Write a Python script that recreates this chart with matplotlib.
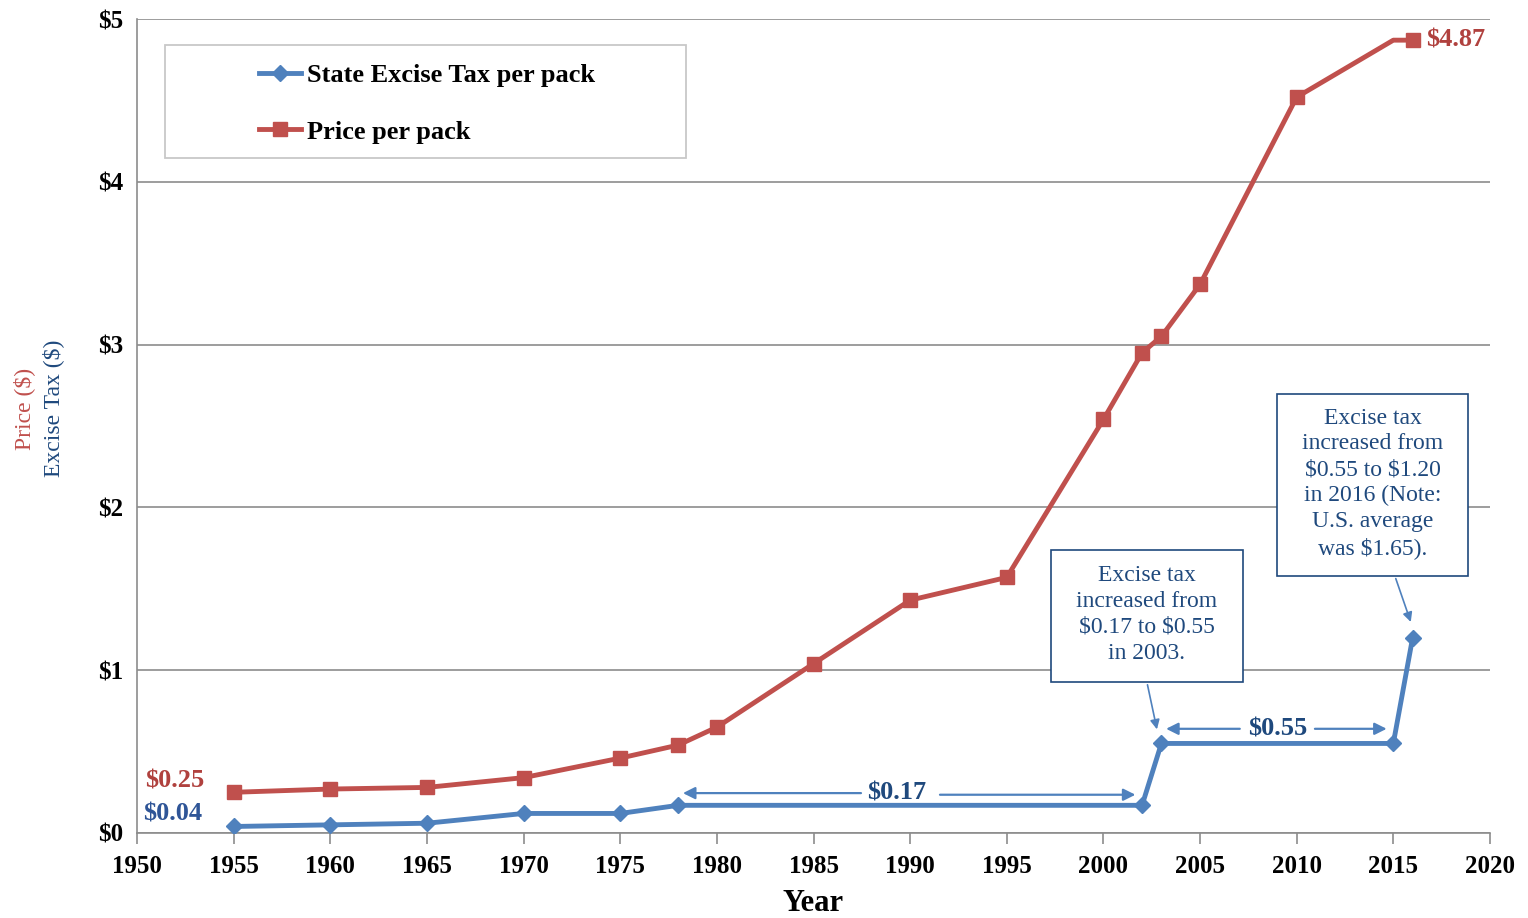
import numpy as np
import matplotlib.pyplot as plt
from matplotlib.ticker import FuncFormatter
from matplotlib.patches import Rectangle

# datos: precio por cajetilla e impuesto estatal
price_years = [1955, 1960, 1965, 1970, 1975, 1978, 1980, 1985, 1990, 1995,
               2000, 2002, 2003, 2005, 2010, 2015, 2016]
price = [0.25, 0.27, 0.28, 0.34, 0.46, 0.54, 0.65, 1.04, 1.43, 1.57,
         2.54, 2.95, 3.05, 3.37, 4.52, 4.87, 4.87]

tax_years = [1955, 1960, 1965, 1970, 1975, 1978, 2002, 2003, 2015, 2016]
tax = [0.04, 0.05, 0.06, 0.12, 0.12, 0.17, 0.17, 0.55, 0.55, 1.20]

year_ticks = list(range(1950, 2021, 5))
price_ticks = [0, 1, 2, 3, 4, 5]

red = '#C0504D'
blue = '#4F81BD'
dark_blue = '#1F497D'
dark_red = '#B0413E'

plt.rcParams['font.family'] = ['Liberation Serif', 'DejaVu Serif']

fig = plt.figure(figsize=(15.28, 9.18), dpi=100)
ax = fig.add_axes([0.0897, 0.0926, 0.8854, 0.8867])

# marcador en todos los puntos menos 2015 (solo quiebre de la linea)
price_marks = [i for i, y in enumerate(price_years) if y != 2015]
ax.plot(tax_years, tax, color=blue, lw=3.5, marker='D', ms=8,
        label='State Excise Tax per pack', zorder=4)
ax.plot(price_years, price, color=red, lw=3.5, marker='s', ms=10,
        markevery=price_marks, label='Price per pack', zorder=4)

ax.set_xlim(1950, 2020)
ax.set_ylim(0, 5)
ax.set_xticks(year_ticks)
ax.set_yticks(price_ticks)
ax.yaxis.set_major_formatter(FuncFormatter(lambda v, p: '\\$%d' % v))
ax.grid(axis='y', color='#8c8c8c', lw=1.2)
ax.set_axisbelow(True)
for s in ['top', 'right']:
    ax.spines[s].set_visible(False)
ax.spines['left'].set_color('#8c8c8c')
ax.spines['bottom'].set_color('#8c8c8c')
ax.spines['left'].set_linewidth(1.2)
ax.spines['bottom'].set_linewidth(1.2)
ax.tick_params(axis='x', length=8, width=1.2, color='#8c8c8c', pad=8)
ax.tick_params(axis='y', length=0, pad=10)
for lab in ax.get_xticklabels() + ax.get_yticklabels():
    lab.set_fontweight('bold')
    lab.set_fontsize(18)

ax.set_xlabel('Year', fontsize=22, fontweight='bold', labelpad=8)
fig.text(0.0085, 0.555, 'Price (\\$)', rotation=90, color=red, fontsize=17,
         ha='left', va='center')
fig.text(0.0275, 0.555, 'Excise Tax (\\$)', rotation=90, color=dark_blue,
         fontsize=17, ha='left', va='center')

# leyenda dentro de un recuadro gris
ax.add_patch(Rectangle((0.0207, 0.829), 0.3851, 0.139, transform=ax.transAxes,
                       fc='white', ec='#c8c8c8', lw=1.3, zorder=5))
leg = ax.legend(loc='upper left', bbox_to_anchor=(0.0825, 0.958), frameon=False,
                labelspacing=1.25, handlelength=1.6, handletextpad=0.2,
                borderaxespad=0, prop={'weight': 'bold', 'size': 19})
leg.set_zorder(6)

# etiquetas de valores
ax.text(1950.4, price[0] + 0.07, '\\$%.2f' % price[0], color=dark_red,
        fontsize=19, fontweight='bold', va='center')
ax.text(1950.3, tax[0] + 0.075, '\\$%.2f' % tax[0], color='#2F5597',
        fontsize=19, fontweight='bold', va='center')
ax.text(2016.7, price[-1], '\\$%.2f' % price[-1], color=dark_red,
        fontsize=19, fontweight='bold', va='center')

# flechas de los periodos con impuesto constante
arrow = dict(arrowstyle='-|>', color=blue, lw=1.6, mutation_scale=18)
y17 = 0.245
ax.annotate('', xy=(1978.1, y17), xytext=(1987.6, y17), arrowprops=arrow)
ax.annotate('', xy=(2001.8, y17 - 0.01), xytext=(1991.4, y17 - 0.01),
            arrowprops=arrow)
ax.text(1989.3, y17, '\\$0.17', color=dark_blue, fontsize=19,
        fontweight='bold', ha='center', va='center')

y55 = 0.64
ax.annotate('', xy=(2003.1, y55), xytext=(2007.2, y55), arrowprops=arrow)
ax.annotate('', xy=(2014.8, y55), xytext=(2010.8, y55), arrowprops=arrow)
ax.text(2009.0, y55, '\\$0.55', color=dark_blue, fontsize=19,
        fontweight='bold', ha='center', va='center')

# cuadros de notas
notes = [
    ((1997.28, 0.927), (2007.21, 1.738),
     'Excise tax\nincreased from\n\\$0.17 to \\$0.55\nin 2003.'),
    ((2008.98, 1.579), (2018.86, 2.697),
     'Excise tax\nincreased from\n\\$0.55 to \\$1.20\nin 2016 (Note:\n'
     'U.S. average\nwas \\$1.65).'),
]
for (x0, y0), (x1, y1), txt in notes:
    ax.add_patch(Rectangle((x0, y0), x1 - x0, y1 - y0, fc='white',
                           ec=dark_blue, lw=1.2, zorder=5))
    ax.text((x0 + x1) / 2, (y0 + y1) / 2 + 0.01, txt, color=dark_blue,
            fontsize=17, ha='center', va='center', linespacing=1.3, zorder=6)

thin = dict(arrowstyle='-|>', color=blue, lw=1.2, mutation_scale=14)
ax.annotate('', xy=(2002.8, 0.62), xytext=(2002.25, 0.927), arrowprops=thin)
ax.annotate('', xy=(2015.95, 1.28), xytext=(2015.08, 1.579), arrowprops=thin)

fig.savefig('out.png', dpi=100)
